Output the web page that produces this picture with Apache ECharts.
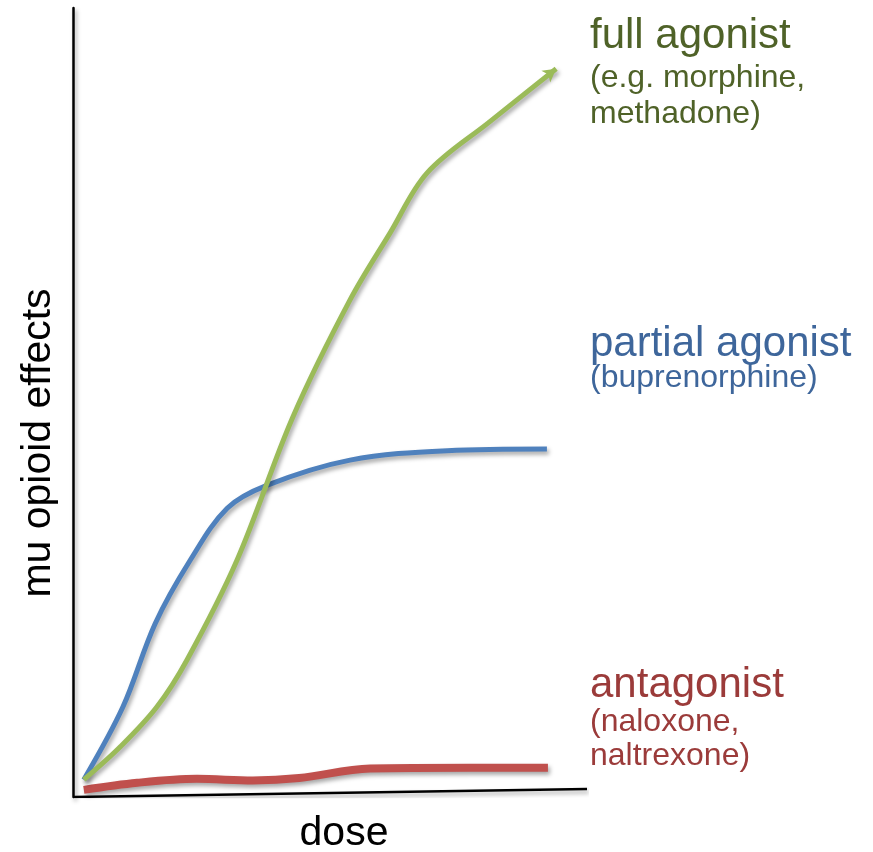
<!DOCTYPE html>
<html><head><meta charset="utf-8">
<script src="https://cdn.jsdelivr.net/npm/echarts@6/dist/echarts.min.js"></script>
<style>html,body{margin:0;padding:0;background:#fff}#c{width:873px;height:852px}</style>
</head><body><div id="c"></div>
<script>
// Data (dose on x 0..100, effect on y 0..100)
const fullAgonist = [[2.1,2.2],[9.1,6.3],[16.3,11.4],[22.2,17.4],[31.9,30.0],[42.8,48.2],[53.9,63.0],[61.7,71.5],[68.9,79.1],[81.1,85.6],[94.0,92.3]];
const partialAgonist = [[2.1,2.2],[9.7,11.4],[16.0,22.0],[22.8,30.0],[30.0,36.6],[37.7,39.5],[53.9,42.7],[72.8,43.9],[92.2,44.1]];
const antagonist = [[2.1,0.9],[12.5,1.8],[24.1,2.3],[35.0,2.1],[44.0,2.4],[57.8,3.6],[77.2,3.7],[92.4,3.7]];
const doseAxisLine = [[0,0],[100,1.0]];
const labels = {
  full: ['full agonist', '(e.g. morphine,', 'methadone)'],
  partial: ['partial agonist', '(buprenorphine)'],
  antag: ['antagonist', '(naloxone,', 'naltrexone)']
};
const xName = 'dose';
const yName = 'mu opioid effects';

const FONT = "'Liberation Sans', Arial, sans-serif";
const shadow = {shadowColor:'rgba(0,0,0,0.35)', shadowBlur:4, shadowOffsetX:2, shadowOffsetY:3};

const chart = echarts.init(document.getElementById('c'), null, {renderer:'canvas'});

const greenData = fullAgonist.map((p,i)=> i===fullAgonist.length-1
  ? {value:p, symbol:'arrow', symbolSize:[11,13], symbolRotate:-53, itemStyle:{color:'#9BBB59'}}
  : {value:p});

function txt(x, y, text, size, color){
  return {type:'text', x:x, y:y, style:{text:text, fill:color, font: size+'px '+FONT, align:'left', verticalAlign:'middle'}};
}

chart.setOption({
  animation:false,
  grid:{left:73, right:286, top:8, bottom:55},
  xAxis:{type:'value', min:0, max:100, show:true, axisLine:{show:false}, axisTick:{show:false}, axisLabel:{show:false}, splitLine:{show:false}},
  yAxis:{type:'value', min:0, max:100, axisLine:{show:true, lineStyle:{color:'#000', width:2.5, ...shadow}}, axisTick:{show:false}, axisLabel:{show:false}, splitLine:{show:false}},
  series:[
    {type:'line', data:doseAxisLine, symbol:'none', silent:true, lineStyle:{color:'#000', width:2.5, ...shadow}, z:1},
    {type:'line', name:'antagonist', data:antagonist, smooth:0.35, symbol:'none', lineStyle:{color:'#C0504D', width:8, cap:'butt', ...shadow}, z:3},
    {type:'line', name:'partial agonist', data:partialAgonist, smooth:0.35, symbol:'none', lineStyle:{color:'#4F81BD', width:5, cap:'butt', ...shadow}, z:4},
    {type:'line', name:'full agonist', data:greenData, smooth:0.35, symbol:'none', lineStyle:{color:'#9BBB59', width:5, cap:'butt', ...shadow}, z:5}
  ],
  graphic:[
    txt(590, 36, labels.full[0], 42, '#4F6228'),
    txt(590, 78, labels.full[1], 32, '#4F6228'),
    txt(590, 114, labels.full[2], 32, '#4F6228'),
    txt(590, 344, labels.partial[0], 42, '#3E669B'),
    txt(590, 378, labels.partial[1], 32, '#3E669B'),
    txt(590, 685, labels.antag[0], 42, '#9B3B3A'),
    txt(590, 722, labels.antag[1], 32, '#9B3B3A'),
    txt(590, 756, labels.antag[2], 32, '#9B3B3A'),
    {type:'text', x:344, y:834, style:{text:xName, fill:'#000', font:'41px '+FONT, align:'center', verticalAlign:'middle'}},
    {type:'text', x:39, y:443, rotation:Math.PI/2, style:{text:yName, fill:'#000', font:'41px '+FONT, align:'center', verticalAlign:'middle'}}
  ]
});
</script></body></html>
